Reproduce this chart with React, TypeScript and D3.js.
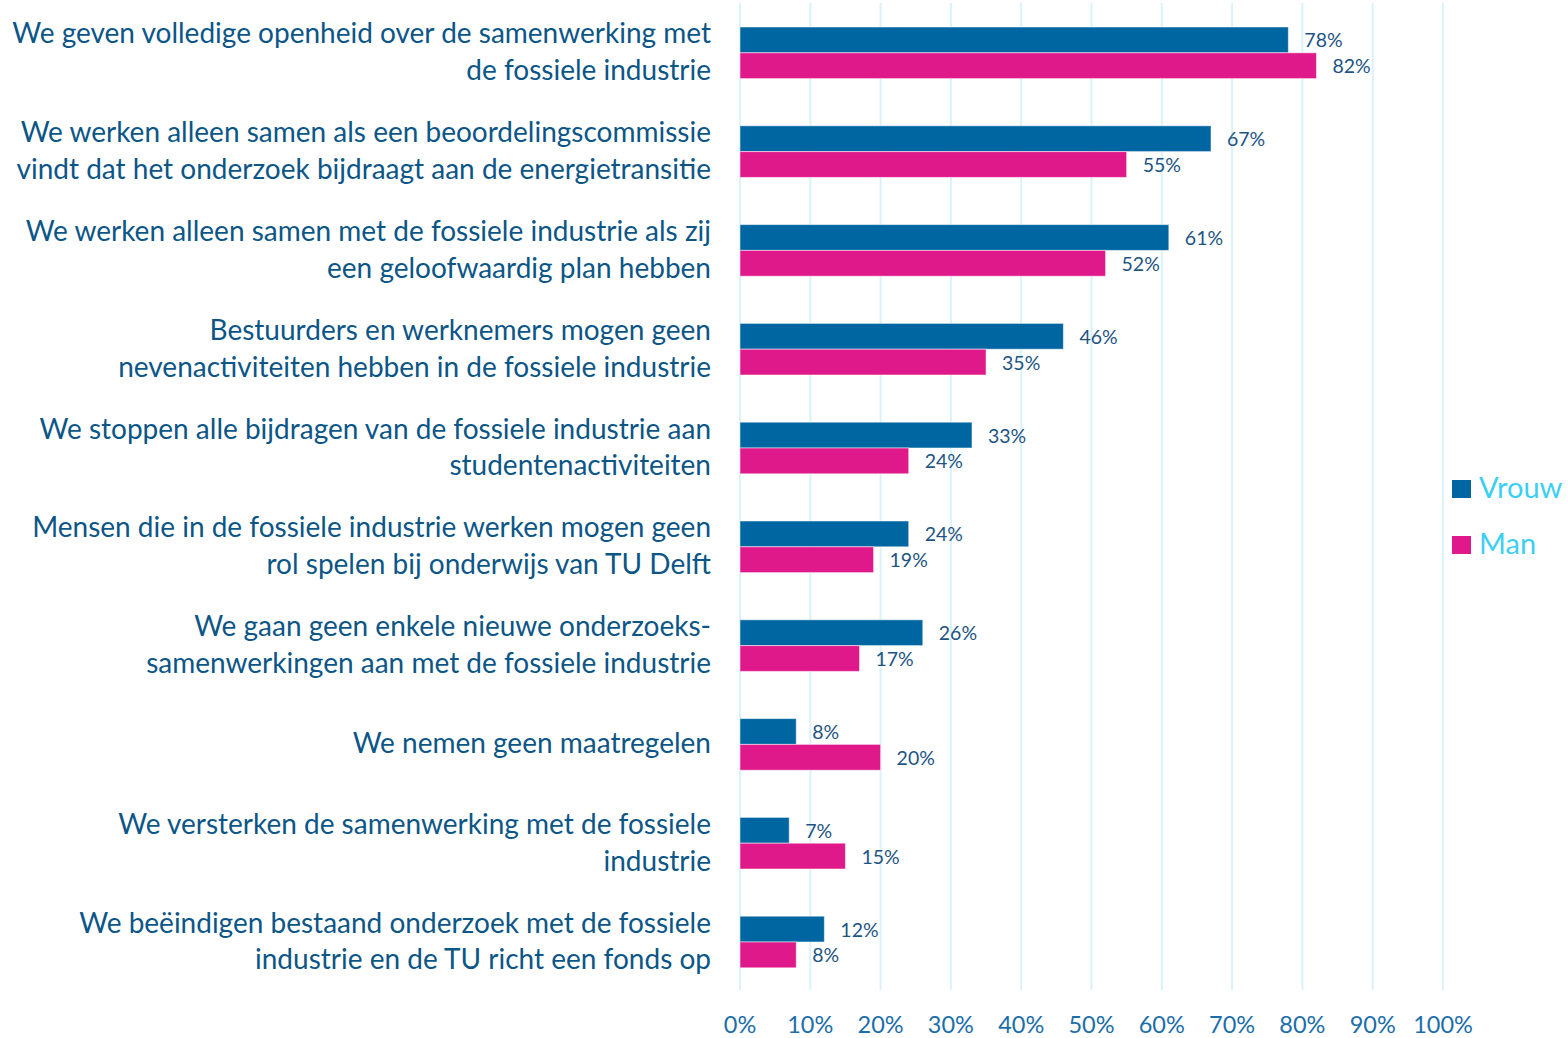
import * as d3 from "d3";

const categories = [
  ["We geven volledige openheid over de samenwerking met", "de fossiele industrie"],
  ["We werken alleen samen als een beoordelingscommissie", "vindt dat het onderzoek bijdraagt aan de energietransitie"],
  ["We werken alleen samen met de fossiele industrie als zij", "een geloofwaardig plan hebben"],
  ["Bestuurders en werknemers mogen geen", "nevenactiviteiten hebben in de fossiele industrie"],
  ["We stoppen alle bijdragen van de fossiele industrie aan", "studentenactiviteiten"],
  ["Mensen die in de fossiele industrie werken mogen geen", "rol spelen bij onderwijs van TU Delft"],
  ["We gaan geen enkele nieuwe onderzoeks-", "samenwerkingen aan met de fossiele industrie"],
  ["We nemen geen maatregelen"],
  ["We versterken de samenwerking met de fossiele", "industrie"],
  ["We beëindigen bestaand onderzoek met de fossiele", "industrie en de TU richt een fonds op"],
];
const vrouw = [0.78, 0.67, 0.61, 0.46, 0.33, 0.24, 0.26, 0.08, 0.07, 0.12];
const man = [0.82, 0.55, 0.52, 0.35, 0.24, 0.19, 0.17, 0.2, 0.15, 0.08];
const ticks = [0, 0.1, 0.2, 0.3, 0.4, 0.5, 0.6, 0.7, 0.8, 0.9, 1];
const seriesNames = ["Vrouw", "Man"];

const W = 1568;
const H = 1038;
const FONT = "Lato, 'Open Sans', sans-serif";
const colors = ["#0066a1", "#e0198a"];

export default function App() {
  const keys = categories.map((_, i) => String(i));
  const x = d3.scaleLinear().domain([0, 1]).range([740, 1443]);
  const y = d3.scaleBand().domain(keys).range([3.4, 991.4]);
  const barH = 25.8;
  const fmt = d3.format(".0%");

  return (
    <div style={{ position: "absolute", left: 0, top: 0 }}>
      <svg width={W} height={H} style={{ display: "block", background: "#fff" }}>
        {/* grid */}
        {ticks.map((t) => (
          <line
            key={t}
            x1={x(t)}
            x2={x(t)}
            y1={3}
            y2={990}
            stroke="#d9f2fb"
            strokeWidth={2}
          />
        ))}
        {/* bars */}
        {keys.map((k, i) => {
          const c = y(k)! + y.bandwidth() / 2;
          const vals = [vrouw[i], man[i]];
          return (
            <g key={k}>
              {vals.map((v, j) => {
                const top = c - barH + j * barH;
                return (
                  <g key={j}>
                    <rect
                      x={x(0)}
                      y={top}
                      width={x(v) - x(0)}
                      height={barH}
                      fill={colors[j]}
                      stroke="#ffffff"
                      strokeOpacity={0.5}
                      strokeWidth={1}
                    />
                    <text
                      x={x(v) + 16}
                      y={top + barH / 2 + 7.5}
                      fontFamily={FONT}
                      fontSize={19.5}
                      fill="#1d5483"
                    >
                      {fmt(v)}
                    </text>
                  </g>
                );
              })}
              <text
                textAnchor="end"
                fontFamily={FONT}
                fontSize={28}
                fill="#0c5687"
              >
                {categories[i].map((line, li) => (
                  <tspan
                    key={li}
                    x={711}
                    y={c + 9 + (li - (categories[i].length - 1) / 2) * 36.8}
                  >
                    {line}
                  </tspan>
                ))}
              </text>
            </g>
          );
        })}
        {/* x axis labels */}
        {ticks.map((t) => (
          <text
            key={t}
            x={x(t)}
            y={1033}
            textAnchor="middle"
            fontFamily={FONT}
            fontSize={23.5}
            fill="#1b6ea8"
          >
            {fmt(t)}
          </text>
        ))}
        {/* legend */}
        <rect x={1444} y={461} width={124} height={112} fill="#fff" />
        {seriesNames.map((s, i) => (
          <g key={s}>
            <rect x={1452} y={480 + i * 56} width={19} height={18} fill={colors[i]} />
            <text
              x={1479}
              y={498 + i * 56}
              fontFamily={FONT}
              fontSize={29}
              fill="#3ccff4"
            >
              {s}
            </text>
          </g>
        ))}
      </svg>
    </div>
  );
}
